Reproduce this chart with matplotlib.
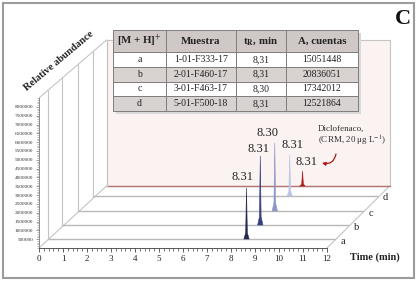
import numpy as np
import matplotlib
matplotlib.use("Agg")
import matplotlib.pyplot as plt
from matplotlib.patches import Rectangle
from matplotlib.ticker import MultipleLocator

plt.rcParams['font.family'] = ['Liberation Serif', 'DejaVu Serif']
plt.rcParams['mathtext.fontset'] = 'stix'

# data -------------------------------------------------------------
series = ['a', 'b', 'c', 'd', 'ref']
samples = ['1-01-F333-17', '2-01-F460-17', '3-01-F463-17', '5-01-F500-18']
t_r = [8.31, 8.31, 8.30, 8.31, 8.31]
t_r_text = ['8,31', '8,31', '8,30', '8,31']
areas = [15051448, 20836051, 17342012, 12521864]
heights = [2900000, 3920000, 3860000, 2330000, 850000]
peak_labels = ['8.31', '8.31', '8.30', '8.31', '8.31']
y_ticks = np.arange(500000, 8000001, 500000)

# style ------------------------------------------------------------
colors = ['#242b52', '#35407f', '#8c96c8', '#bcc3e3', '#ad1a1a']
W, H = 418, 281
X0, Y0 = 39, 248          # front origin (pixels, from top-left)
XPX = 24.0                # pixels per minute
YTOP = 8505000            # abundance at top of front y axis (150 px)
YPP = YTOP / 150.0
depth_dx = [8.5, 23, 38.5, 54, 67.5]   # pixel offsets of each slice
depth_dy = [9, 23, 37, 52, 62]
back_h = 146
label_off = [(-4, 11), (-2, 7), (-7, 10), (3, 10), (4, 9)]
line_col = '#c4c4c4'

fig = plt.figure(figsize=(W / 100, H / 100), dpi=100)
ax = fig.add_axes([X0 / W, (H - Y0) / H, 288 / W, 150 / H])
ax.set_xlim(0, 12)
ax.set_ylim(0, YTOP)
ax.set_facecolor('none')

OX = [d / XPX for d in depth_dx]
OY = [d * YPP for d in depth_dy]
frac = [d / depth_dx[-1] for d in depth_dx]
SCALE = [1 - 0.017 * f for f in frac]
top_rel = [150 + (back_h + depth_dy[-1] - 150) * f - dy for f, dy in zip(frac, depth_dy)]

# back plane
ax.add_patch(Rectangle((OX[-1], OY[-1]), 12 * SCALE[-1], back_h * YPP,
                       facecolor='#faf3f2', edgecolor=line_col, lw=0.8,
                       clip_on=False, zorder=1))
# diagonals
kw = dict(color=line_col, lw=0.8, clip_on=False, zorder=2)
ax.plot([0, OX[-1]], [0, OY[-1]], **kw)
ax.plot([0, OX[-1]], [YTOP, OY[-1] + back_h * YPP], **kw)
ax.plot([12, OX[-1] + 12 * SCALE[-1]], [0, OY[-1]], **kw)

# slices
for i, name in enumerate(series):
    ox, oy, s = OX[i], OY[i], SCALE[i]
    base_col = '#b07272' if name == 'ref' else '#b8b8b8'
    ax.plot([ox, ox + 12 * s], [oy, oy], color=base_col, lw=1.0,
            clip_on=False, zorder=2)
    ax.plot([ox, ox], [oy, oy + top_rel[i] * YPP], color=line_col, lw=0.8,
            clip_on=False, zorder=2)
    t = ox + t_r[i] * s
    px = np.array([-0.11, -0.035, 0, 0.035, 0.11])
    py = np.array([0, 0.12, 1, 0.12, 0]) * heights[i]
    ax.fill(t + px, oy + py, color=colors[i], lw=0.4, clip_on=False,
            zorder=10 - i)
    ax.annotate(peak_labels[i], (t, oy + heights[i]), xytext=label_off[i],
                textcoords='offset pixels', ha='center', va='center',
                fontsize=9, color='#222222', annotation_clip=False, zorder=12)
    if name != 'ref':
        ax.annotate(name, (ox + 12 * s, oy), xytext=(8, -2),
                    textcoords='offset pixels', ha='center', va='center',
                    fontsize=7.5, color='#222222', annotation_clip=False)

# axes styling
for side in ['top', 'right']:
    ax.spines[side].set_visible(False)
ax.spines['left'].set_color('#8a8a8a')
ax.spines['bottom'].set_color('#555555')
ax.spines['left'].set_linewidth(0.7)
ax.spines['bottom'].set_linewidth(0.7)
ax.xaxis.set_major_locator(MultipleLocator(1))
ax.xaxis.set_minor_locator(MultipleLocator(0.2))
ax.set_yticks(y_ticks)
ax.set_yticklabels(['%d' % v for v in y_ticks])
ax.yaxis.set_minor_locator(MultipleLocator(100000))
ax.tick_params(axis='x', which='major', length=3, width=0.6, labelsize=6.5,
               pad=2, colors='#444444', labelcolor='#222222')
ax.tick_params(axis='x', which='minor', length=2, width=0.5, colors='#444444')
ax.tick_params(axis='y', which='major', length=2.5, width=0.5, labelsize=3.8,
               pad=1.5, colors='#777777', labelcolor='#333333')
ax.tick_params(axis='y', which='minor', length=1.5, width=0.4, colors='#888888')

# texts
fig.text(375 / W, (H - 257) / H, 'Time (min)', ha='center', va='center',
         fontsize=7.5, fontweight='bold', color='#222222')
fig.text(59 / W, (H - 61) / H, 'Relative abundance', ha='center', va='center',
         rotation=40, fontsize=7.5, fontweight='bold', color='#222222')
fig.text(403 / W, (H - 19) / H, 'C', ha='center', va='center',
         fontsize=16, fontweight='bold', color='#111111')
fig.text(318 / W, (H - 136) / H, 'Diclofenaco,\n(CRM, 20 \u03bcg L$^{-1}$)',
         ha='left', va='center', fontsize=6.5, color='#333333', linespacing=1.1)
ax.annotate('', xy=(322, H - 163), xytext=(336, H - 154),
            xycoords='figure pixels', textcoords='figure pixels',
            arrowprops=dict(arrowstyle='-|>', color='#ad1a1a', lw=0.9,
                            mutation_scale=5, shrinkA=0, shrinkB=0,
                            connectionstyle='arc3,rad=-0.5'))

# table
tx, ty, tw, th = 113, 30, 245, 81
tax = fig.add_axes([tx / W, (H - ty - th) / H, tw / W, th / H])
tax.axis('off')
tax.add_patch(Rectangle((3 / tw, -3 / th), 1, 1, transform=tax.transAxes,
                        facecolor='#d9d9d9', edgecolor='none',
                        clip_on=False, zorder=0))
col_labels = ['[M + H]$^{+}$', 'Muestra', 't$_{\\mathbf{R}}$, min', 'A, cuentas']
cell_text = [[series[i], samples[i], t_r_text[i], str(areas[i])] for i in range(4)]
tbl = tax.table(cellText=cell_text, colLabels=col_labels, cellLoc='center',
                colWidths=[53, 70, 50, 72], bbox=[0, 0, 1, 1])
tbl.set_zorder(3)
tbl.auto_set_font_size(False)
for (r, c), cell in tbl.get_celld().items():
    cell.set_edgecolor('#7d7d7d')
    cell.set_linewidth(0.7)
    if r == 0:
        cell.set_height(22)
        cell.set_facecolor('#cfc8c7')
        cell.get_text().set_fontsize(7.8)
        cell.get_text().set_fontweight('bold')
    else:
        cell.set_height(14.75)
        cell.set_facecolor('#d8d2d1' if r % 2 == 0 else 'white')
        cell.get_text().set_fontsize(7)
    cell.get_text().set_color('#222222')

# outer frame
fig.patches.append(Rectangle((3 / W, 3 / H), 411 / W, 275 / H,
                             transform=fig.transFigure, facecolor='none',
                             edgecolor='#9c9c9c', lw=1.5))

fig.savefig('out.png', dpi=100)
